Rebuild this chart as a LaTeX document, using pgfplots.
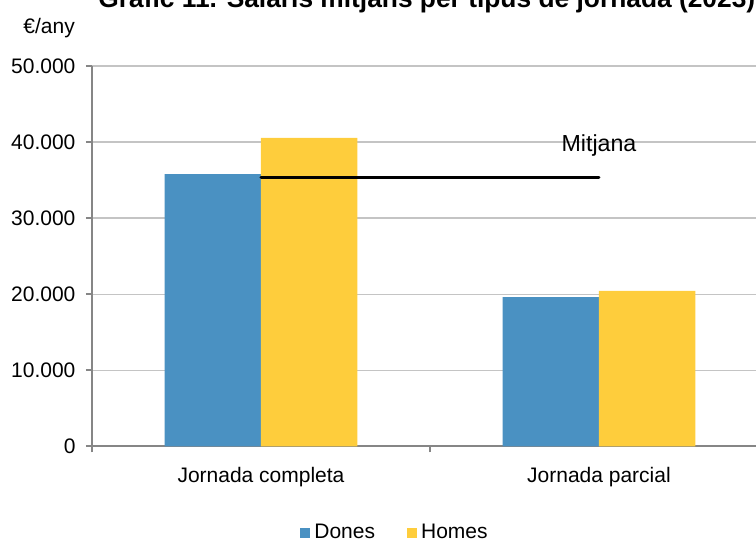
\documentclass[border=0pt]{standalone}
\usepackage{pgfplots}
\pgfplotsset{compat=1.18}
\usepackage{fontspec}
\setmainfont{Liberation Sans}
\definecolor{cdones}{RGB}{74,145,194}
\definecolor{chomes}{RGB}{254,205,60}
\definecolor{caxis}{RGB}{134,134,134}
\definecolor{cgrid}{RGB}{196,196,196}
\pgfplotsset{sq legend/.style={legend image code/.code={\fill[##1] (0pt,-2.5pt) rectangle (5pt,2.5pt);}}}
\begin{document}
\begin{tikzpicture}[x=1pt,y=1pt]
\path[use as bounding box] (0,0) rectangle (378,269);
\clip (0,0) rectangle (378,269);
\begin{axis}[
  at={(46pt,45.85pt)}, anchor=south west,
  scale only axis, width=332pt, height=190.15pt,
  xmin=-0.5, xmax=1.4645, ymin=0, ymax=50000,
  axis x line*=bottom, axis y line*=left,
  axis line style={-, caxis, line width=0.85pt},
  tick align=outside, major tick length=3pt,
  tick style={caxis, line width=0.85pt},
  ytick={0,10000,20000,30000,40000,50000},
  scaled y ticks=false,
  yticklabel style={/pgf/number format/fixed, /pgf/number format/1000 sep={.}, xshift=-1.75pt},
  /pgf/number format/assume math mode=true,
  ymajorgrids, major grid style={cgrid, line width=0.65pt},
  xtick={-0.5,0.5,1.5}, xticklabels={},
  extra x ticks={0,1}, extra x tick labels={Jornada completa, Jornada parcial},
  extra x tick style={major tick length=0pt, grid=none, tick label style={yshift=-7pt}},
  tick label style={font=\fontsize{10.5pt}{12pt}\selectfont},
  legend style={at={(rel axis cs:0.3042,-0.183)}, anchor=north west, draw=none, fill=none,
    font=\fontsize{10.5pt}{12pt}\selectfont,
    /tikz/every even column/.append style={column sep=14pt}},
  legend columns=2,
  clip=false,
]
\addplot[ybar, bar width=0.2855, bar shift=-0.14275, fill=cdones, draw=none, sq legend] coordinates {(0,35800) (1,19600)};
\addlegendentry{Dones}
\addplot[ybar, bar width=0.2855, bar shift=0.14275, fill=chomes, draw=none, sq legend] coordinates {(0,40550) (1,20450)};
\addlegendentry{Homes}
\addplot[black, line width=1.5pt, line cap=round, forget plot] coordinates {(0,35350) (1,35350)};
\node[anchor=base, inner sep=0, font=\fontsize{11.6pt}{13pt}\selectfont] at (axis cs:1,38700) {Mitjana};
\end{axis}
\node[anchor=base west, inner sep=0, font=\bfseries\fontsize{13.17pt}{15pt}\selectfont] at (49,265.5) {Gràfic 11. Salaris mitjans per tipus de jornada (2023)};
\node[anchor=base west, inner sep=0, font=\fontsize{10.5pt}{12pt}\selectfont] at (11.5,252.5) {€/any};
\end{tikzpicture}
\end{document}
